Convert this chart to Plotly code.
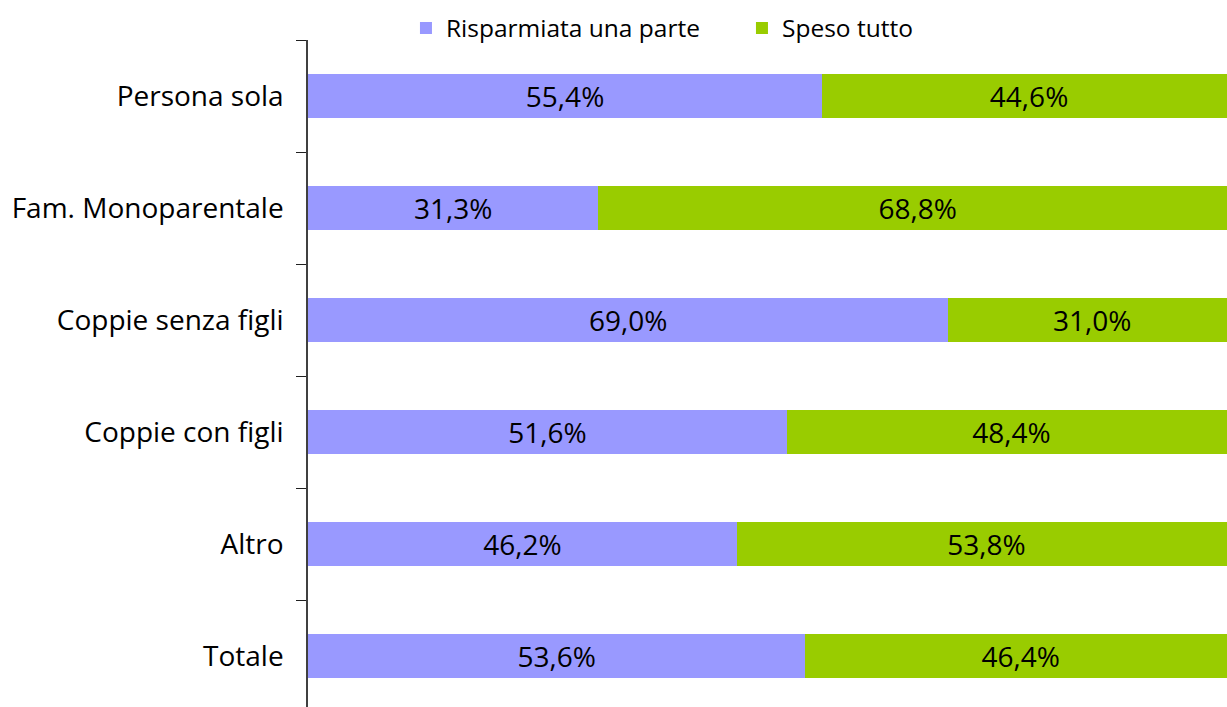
import plotly.graph_objects as go

categories = ["Persona sola", "Fam. Monoparentale", "Coppie senza figli",
              "Coppie con figli", "Altro", "Totale"]
risparmiata = [55.4, 31.3, 69.0, 51.6, 46.2, 53.6]
speso = [44.6, 68.8, 31.0, 48.4, 53.8, 46.4]
series_names = ["Risparmiata una parte", "Speso tutto"]
colors = ["#9999FF", "#99CC00"]

font_family = "'Open Sans', Lato, sans-serif"

fig = go.Figure()
for name, vals, col in zip(series_names, [risparmiata, speso], colors):
    fig.add_trace(go.Bar(
        y=categories, x=vals, name=name, orientation="h",
        marker=dict(color=col, line=dict(width=0)),
        width=0.4,
        text=vals, texttemplate="%{x:.1f}%",
        textposition="inside", insidetextanchor="middle",
        textfont=dict(color="black", size=28, family=font_family),
        cliponaxis=True,
    ))

fig.update_layout(
    width=1227, height=707,
    barmode="stack",
    separators=",.",
    paper_bgcolor="white", plot_bgcolor="white",
    margin=dict(l=308, r=0, t=40, b=0, pad=0),
    font=dict(family=font_family, size=28, color="black"),
    legend=dict(orientation="h", x=0.1066, xanchor="left", y=1.018, yanchor="middle",
                font=dict(size=24.5), itemclick=False, traceorder="normal",
                entrywidth=291, entrywidthmode="pixels",
                bgcolor="rgba(0,0,0,0)"),
    showlegend=True,
)
fig.update_xaxes(range=[0, 99.03], showticklabels=False, showgrid=False,
                 zeroline=False, showline=False, ticks="")
fig.update_yaxes(type="category", categoryorder="array",
                 categoryarray=categories[::-1],
                 range=[-0.455, 5.5], showgrid=False, zeroline=False,
                 showline=True, linecolor="#404040", linewidth=1.5,
                 ticks="outside", tickson="boundaries", ticklen=10,
                 tickcolor="#202020", tickwidth=1, ticklabelstandoff=17,
                 tickfont=dict(size=28, family=font_family))

fig.write_html("out.html", config={"displayModeBar": False},
               post_script="document.body.style.margin='0';document.body.style.overflow='hidden';")
